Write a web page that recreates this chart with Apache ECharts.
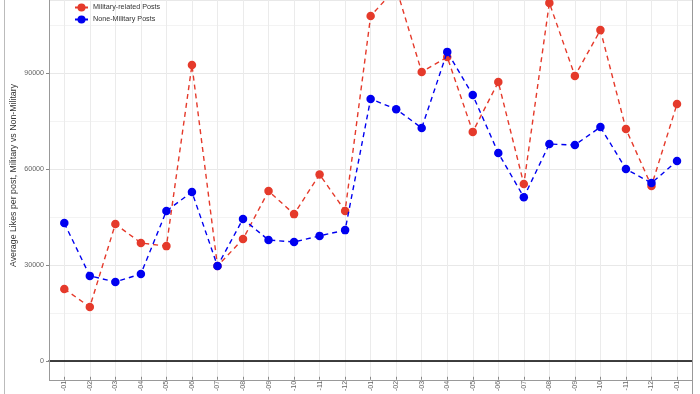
<!DOCTYPE html>
<html>
<head>
<meta charset="utf-8">
<script src="https://cdn.jsdelivr.net/npm/echarts@6/dist/echarts.min.js"></script>
<style>html,body{margin:0;padding:0;background:#fff}#c{width:700px;height:394px}</style>
</head>
<body>
<div id="c"></div>
<script>
const categories = ["-01","-02","-03","-04","-05","-06","-07","-08","-09","-10","-11","-12",
                    "-01","-02","-03","-04","-05","-06","-07","-08","-09","-10","-11","-12","-01"];
const military = [22500,16900,42800,36900,35900,92500,29700,38100,53100,45900,58300,46900,
                  107800,116600,90300,95000,71600,87200,55300,111900,89100,103400,72500,54700,80300];
const nonMilitary = [43100,26600,24700,27200,46900,52800,29700,44400,37800,37200,39100,40900,
                     81900,78700,72800,96600,83100,65000,51200,67800,67500,73100,60000,55600,62500];
const yTicks = [0,30000,60000,90000];
const seriesNames = ["Military-related Posts","None-Military Posts"];

const RED = '#E53A2B', BLUE = '#0000F0';
const YMAX = 112812.5;
const FONT = 'Liberation Sans, Arial, sans-serif';

const chart = echarts.init(document.getElementById('c'), null, {renderer:'canvas'});
chart.setOption({
  animation:false,
  backgroundColor:'#fff',
  textStyle:{fontFamily:FONT},
  grid:[
    {left:49, right:8, top:0, bottom:33},
    {left:64.3, right:23, top:0, bottom:33},
    {left:64.3, right:23, top:361, bottom:14}
  ],
  xAxis:[
    {gridIndex:0, type:'value', min:0, max:1, show:true,
     axisLine:{show:true, onZero:false, lineStyle:{color:'#000', width:1.6}},
     axisTick:{show:false}, axisLabel:{show:false}, splitLine:{show:false}},
    {gridIndex:1, type:'category', data:categories, boundaryGap:false,
     axisLine:{show:false}, axisTick:{show:false}, axisLabel:{show:false},
     splitLine:{show:true, lineStyle:{color:'#ebebeb', width:1}}},
    {gridIndex:2, type:'category', data:categories, boundaryGap:false,
     axisLine:{show:false},
     axisTick:{show:true, length:3, inside:false, lineStyle:{color:'#888'}},
     axisLabel:{show:true, rotate:90, fontSize:7.1, color:'#666', margin:4, interval:0, fontFamily:FONT},
     splitLine:{show:true, interval:0, lineStyle:{color:'#ebebeb', width:1}}}
  ],
  yAxis:[
    {gridIndex:0, type:'value', min:0, max:YMAX, interval:30000,
     axisLine:{show:false},
     axisTick:{show:true, length:3, lineStyle:{color:'#888'}},
     axisLabel:{show:true, fontSize:7.1, color:'#666', margin:5, fontFamily:FONT,
       showMaxLabel:false,
       formatter:function(v){ return yTicks.indexOf(v) >= 0 ? String(v) : ''; }},
     splitLine:{show:true, lineStyle:{color:'#e8e8e8', width:1}},
     minorTick:{show:false, splitNumber:2},
     minorSplitLine:{show:true, lineStyle:{color:'#f3f3f3', width:1}}},
    {gridIndex:1, type:'value', min:0, max:YMAX, show:false},
    {gridIndex:2, type:'value', min:0, max:1, show:false}
  ],
  legend:{
    orient:'vertical', left:69, top:-1.5, itemWidth:13, itemHeight:10, itemGap:4,
    textStyle:{fontSize:7.2, color:'#333', fontFamily:FONT},
    data:seriesNames
  },
  graphic:[
    {type:'line', shape:{x1:49.5,y1:0,x2:49.5,y2:380.5}, style:{stroke:'#999', lineWidth:1}, z:10},
    {type:'line', shape:{x1:49,y1:380.5,x2:692,y2:380.5}, style:{stroke:'#999', lineWidth:1}, z:10},
    {type:'line', shape:{x1:692.5,y1:0,x2:692.5,y2:394}, style:{stroke:'#999', lineWidth:1}, z:10},
    {type:'line', shape:{x1:4.5,y1:0,x2:4.5,y2:394}, style:{stroke:'#bbb', lineWidth:1}, z:10},
    {type:'text', x:14, y:175.5, rotation:Math.PI/2,
     style:{text:'Average Likes per post, Military vs Non-Military', fontSize:8.8, fill:'#333',
            fontFamily:FONT, align:'center', verticalAlign:'middle'}}
  ],
  series:[
    {name:seriesNames[0], type:'line', xAxisIndex:1, yAxisIndex:1, data:military,
     symbol:'circle', symbolSize:8.5, clip:true,
     itemStyle:{color:RED}, lineStyle:{color:RED, width:1.4, type:[5,4]}, z:3},
    {name:seriesNames[1], type:'line', xAxisIndex:1, yAxisIndex:1, data:nonMilitary,
     symbol:'circle', symbolSize:8.5, clip:true,
     itemStyle:{color:BLUE}, lineStyle:{color:BLUE, width:1.4, type:[5,4]}, z:4}
  ]
});
</script>
</body>
</html>
